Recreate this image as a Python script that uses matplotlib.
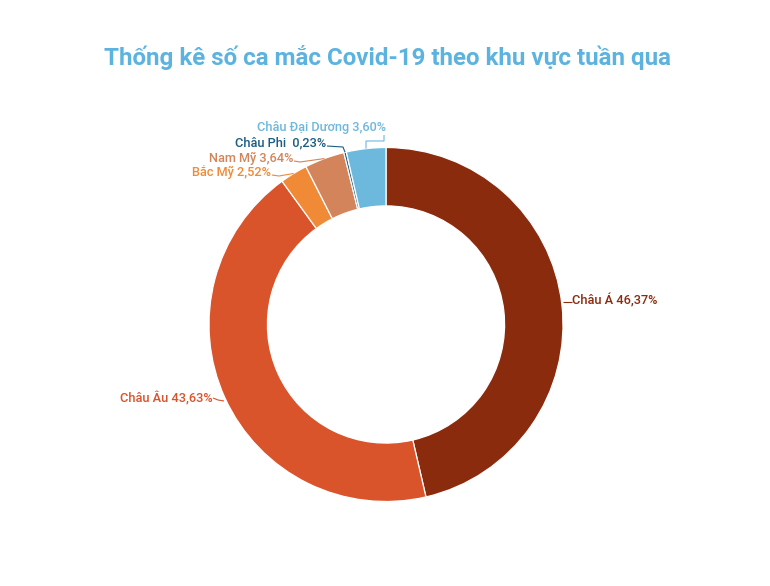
import matplotlib
matplotlib.use("Agg")
import matplotlib.pyplot as plt
import numpy as np

plt.rcParams['font.family'] = ['Roboto', 'DejaVu Sans']

# ---- data ----
regions = ["Châu Á", "Châu Âu", "Bắc Mỹ", "Nam Mỹ", "Châu Phi", "Châu Đại Dương"]
shares = [46.37, 43.63, 2.52, 3.64, 0.23, 3.60]
labels = ["46,37%", "43,63%", "2,52%", "3,64%", "0,23%", "3,60%"]
colors = ["#8B2B0E", "#D9532B", "#F08A36", "#D4845A", "#1C5D84", "#6DB8DD"]
text_colors = ["#8B2B10", "#D9532B", "#F08A36", "#D4845A", "#1C5D84", "#6DB8DD"]
title = "Thống kê số ca mắc Covid-19 theo khu vực tuần qua"

W, H = 770, 586
fig = plt.figure(figsize=(W / 100, H / 100), dpi=100)
ax = fig.add_axes([0, 0, 1, 1])

cx, cy, R = 386, H - 324.5, 177
wedges, _ = ax.pie(shares, colors=colors, startangle=90, counterclock=False,
                   radius=R, center=(cx, cy),
                   wedgeprops=dict(width=R * 0.33, edgecolor="white", linewidth=0.9))
ax.set_xlim(0, W)
ax.set_ylim(0, H)
ax.set_aspect("equal")
ax.axis("off")

# label layout: (text x, text y in pixels from top, ha, leader polyline from text to wedge)
layout = [
    (572, 300, "left", [(572, 302), (563, 302)]),
    (213, 398, "right", [(213, 398), (218, 400), (224, 401)]),
    (271, 172, "right", [(272, 175), (279, 176), None]),
    (293, 158, "right", [(294, 161), (300, 162), None]),
    (326, 143, "right", [(327, 146), (343, 147), None]),
    (386, 128, "right", [(384, 135), (384, 141), (366, 141), None]),
]

for i, (w, reg, lab) in enumerate(zip(wedges, regions, labels)):
    tx, ty, ha, pts = layout[i]
    mid = np.deg2rad((w.theta1 + w.theta2) / 2)
    ax_x = cx + R * np.cos(mid)
    ax_y = cy + R * np.sin(mid)
    xs, ys = [], []
    for p in pts:
        if p is None:
            xs.append(ax_x); ys.append(ax_y)
        else:
            xs.append(p[0]); ys.append(H - p[1])
    ax.plot(xs, ys, color=text_colors[i], lw=0.8, solid_capstyle="butt")
    gap = "  " if reg == "Châu Phi" else " "
    ax.text(tx, H - ty, f"{reg}{gap}{lab}", ha=ha, va="center",
            fontsize=9.2, fontweight="medium", color=text_colors[i])

fig.text(388 / W, 1 - 57 / H, title, ha="center", va="center",
         fontsize=17.4, fontweight="bold", color="#5DB3E0")

fig.savefig("out.png", dpi=100)
